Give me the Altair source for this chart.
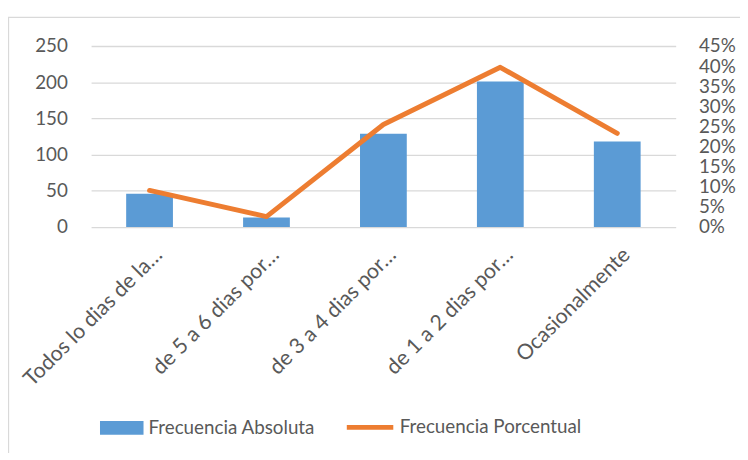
import altair as alt
import pandas as pd

categorias = ["Todos lo dias de la…", "de 5 a 6 dias por…", "de 3 a 4 dias por…",
              "de 1 a 2 dias por…", "Ocasionalmente"]
frecuencia_absoluta = [46, 13, 129, 201, 118]
frecuencia_porcentual = [0.091, 0.026, 0.255, 0.397, 0.233]
ticks_abs = [0, 50, 100, 150, 200, 250]
ticks_pct = [0, 0.05, 0.10, 0.15, 0.20, 0.25, 0.30, 0.35, 0.40, 0.45]
serie_abs = ["Frecuencia Absoluta"]
serie_pct = ["Frecuencia Porcentual"]
color_abs = ["#5B9BD5"]
color_pct = ["#ED7D31"]

df = pd.DataFrame({"categoria": categorias,
                   "abs": frecuencia_absoluta,
                   "pct": frecuencia_porcentual})

FONT = "Lato"
TXT = "#595959"
GRID = "#D9D9D9"

x = alt.X("categoria:N", sort=categorias,
          scale=alt.Scale(paddingInner=0.6, paddingOuter=0.3),
          axis=alt.Axis(title=None, labelAngle=-45, labelAlign="right",
                        labelBaseline="alphabetic", labelPadding=29, labelOffset=14,
                        domain=False, ticks=False, labelFontSize=21.5,
                        labelColor=TXT, labelFont=FONT, labelLimit=0))

bars = alt.Chart(df).transform_calculate(
    serie_a="'Frecuencia Absoluta'"
).mark_bar().encode(
    x=x,
    y=alt.Y("abs:Q", scale=alt.Scale(domain=[0, 250], nice=False),
            axis=alt.Axis(orient="left", values=ticks_abs, grid=True,
                          gridColor=GRID, gridWidth=1.3, domain=False,
                          ticks=False, labelPadding=24, labelFontSize=19,
                          labelColor=TXT, labelFont=FONT, title=None)),
    color=alt.Color("serie_a:N", scale=alt.Scale(domain=serie_abs, range=color_abs),
                    legend=alt.Legend(title=None, orient="none", legendX=9, legendY=364,
                                      symbolType="M-1,-0.32H1V0.32H-1Z", symbolSize=1936,
                                      symbolStrokeWidth=0, symbolOpacity=1,
                                      labelFontSize=19, labelFont=FONT, labelColor=TXT,
                                      labelOffset=5, labelLimit=0)),
)

line = alt.Chart(df).transform_calculate(
    serie_p="'Frecuencia Porcentual'"
).mark_line(strokeWidth=5, strokeCap="round", strokeJoin="round").encode(
    x=x,
    y=alt.Y("pct:Q", scale=alt.Scale(domain=[0, 0.45], nice=False),
            axis=alt.Axis(orient="right", values=ticks_pct, format=".0%",
                          grid=False, domain=False, ticks=False,
                          labelPadding=23, labelOverlap=False,
                          labelFontSize=19, labelColor=TXT, labelFont=FONT,
                          title=None)),
    stroke=alt.Stroke("serie_p:N", scale=alt.Scale(domain=serie_pct, range=color_pct),
                      legend=alt.Legend(title=None, orient="none", legendX=256, legendY=359.5,
                                        symbolType="stroke", symbolSize=2209,
                                        symbolStrokeWidth=5, symbolOpacity=1,
                                        labelFontSize=19, labelFont=FONT, labelColor=TXT,
                                        labelOffset=4, labelLimit=0)),
)

border = alt.Chart(pd.DataFrame({"d": [0]})).mark_rect(
    fill="transparent", stroke=GRID, strokeWidth=1.3
).encode(
    x=alt.value(-83.5), x2=alt.value(720),
    y=alt.value(-29), y2=alt.value(470),
)

chart = alt.layer(bars, line, border).resolve_scale(
    y="independent"
).properties(
    width=591, height=183,
    autosize=alt.AutoSizeParams(type="none"),
    padding={"left": 84, "top": 36, "right": 65, "bottom": 226},
    background="white",
).configure_view(stroke=None)

chart.save("out.html", embed_options={"renderer": "svg", "actions": False})
